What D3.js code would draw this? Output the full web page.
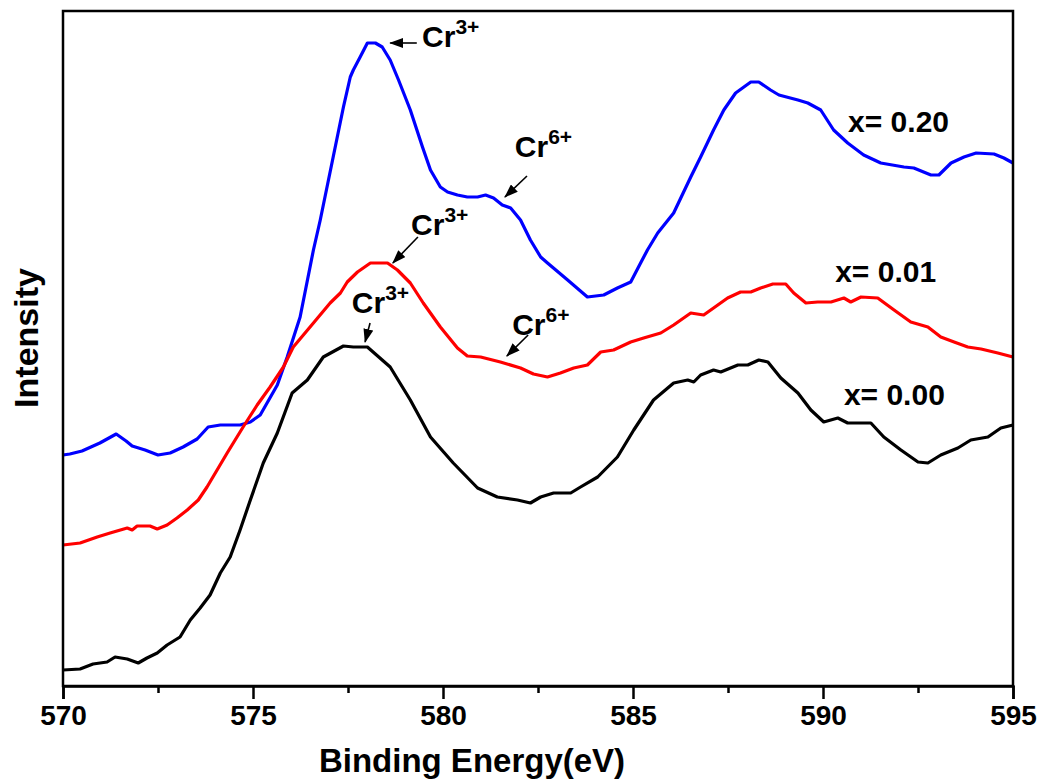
<!DOCTYPE html>
<html>
<head>
<meta charset="utf-8">
<script src="https://cdn.jsdelivr.net/npm/d3@7"></script>
<style>
  html, body { margin: 0; padding: 0; background: #fff; }
  svg { display: block; }
  text { font-family: "Liberation Sans", Arial, sans-serif; font-weight: bold; fill: #000; }
</style>
</head>
<body>
<svg id="chart" width="1039" height="780"></svg>
<script>
// ---------------- data ----------------
const xTicks = [570, 575, 580, 585, 590, 595];
const xMinorTicks = [572.5, 577.5, 582.5, 587.5, 592.5];

// x = 0.20 (blue)
const energy020 = [570.00,570.18,570.50,570.97,571.40,571.66,571.82,572.16,572.50,572.82,573.16,573.53,573.82,574.14,574.66,574.93,575.19,575.64,575.90,576.24,576.59,576.77,577.11,577.38,577.56,577.64,577.82,578.01,578.22,578.40,578.61,578.83,579.14,579.46,579.67,579.93,580.12,580.38,580.64,580.91,581.12,581.33,581.56,581.78,582.04,582.30,582.57,582.75,583.28,583.80,584.23,584.59,584.94,585.20,585.38,585.65,586.07,586.52,586.78,587.12,587.39,587.70,588.10,588.31,588.62,588.84,589.34,589.60,589.94,590.28,590.65,591.07,591.52,592.13,592.39,592.84,593.05,593.37,593.71,594.03,594.50,594.76,595.00];
const intensity020 = [231,232,235,243,252,245,240,236,231,233,239,247,259,261,261,264,271,301,329,369,436,466,529,579,609,616,629,643,643,639,626,606,576,539,516,499,494,491,489,489,491,488,481,478,466,446,429,423,406,389,391,398,404,423,436,453,473,509,529,556,576,593,604,604,596,591,586,583,576,556,543,531,523,519,518,511,511,523,529,533,532,528,523];

// x = 0.01 (red)
const energy001 = [570.00,570.45,570.90,571.24,571.69,571.82,571.95,572.29,572.48,572.74,573.00,573.27,573.56,573.79,574.32,574.74,575.11,575.45,575.80,576.06,576.59,577.03,577.30,577.48,577.75,578.09,578.54,578.80,579.14,579.48,579.93,580.38,580.64,580.99,581.51,582.04,582.38,582.75,583.09,583.44,583.80,584.15,584.49,584.94,585.28,585.73,586.07,586.52,586.86,587.12,587.49,587.83,588.10,588.36,588.68,589.02,589.23,589.55,589.86,590.21,590.55,590.73,591.00,591.44,591.87,592.31,592.76,593.10,593.45,593.81,594.16,594.60,595.00];
const intensity001 = [141,143,149,153,158,156,160,160,157,161,168,176,186,199,233,259,281,299,319,339,363,383,393,404,414,423,423,416,403,383,359,338,330,329,324,318,312,309,313,318,321,334,336,344,348,353,361,373,371,378,388,394,394,398,402,402,393,383,384,384,388,384,389,388,376,364,359,349,344,339,337,333,329];

// x = 0.00 (black)
const energy000 = [570.00,570.45,570.79,571.16,571.37,571.69,571.98,572.21,572.48,572.74,573.08,573.35,573.61,573.87,574.14,574.40,574.66,574.93,575.27,575.64,576.03,576.43,576.85,577.38,577.64,578.01,578.61,579.14,579.67,580.27,580.91,581.43,581.96,582.30,582.57,582.91,583.36,583.62,584.07,584.59,585.02,585.54,586.07,586.44,586.60,586.78,587.12,587.31,587.76,588.02,588.31,588.55,588.89,589.34,589.68,590.02,590.39,590.65,591.26,591.60,592.05,592.50,592.76,593.10,593.55,593.89,594.34,594.68,595.00];
const intensity000 = [16,17,22,24,29,27,23,28,33,41,49,66,78,91,113,129,156,186,223,253,293,306,329,340,339,339,319,286,249,223,198,189,186,183,189,193,193,199,209,229,256,286,303,306,304,311,316,314,321,321,326,324,308,293,276,264,268,263,263,249,236,224,223,231,238,246,249,258,261];

const seriesNames = ["x= 0.20", "x= 0.01", "x= 0.00"];
const seriesColors = ["#0000ff", "#ff0000", "#000000"];
const labelEnergy = [590.66, 590.32, 590.55];
const labelIntensity = [554, 404, 281];

// annotations: ion, arrow tip, arrow tail, text start (energy, intensity)
const annIon = ["3+", "6+", "3+", "3+", "6+"];
const annTipE = [578.61, 581.63, 578.68, 577.95, 581.68];
const annTipI = [643, 489, 423, 344, 330];
const annTailE = [579.31, 582.21, 579.34, 578.08, 582.24];
const annTailI = [643, 510, 449, 363, 351];
const annTextE = [579.45, 581.89, 579.16, 577.60, 581.82];
const annTextI = [639, 529, 451, 373, 351];

// ---------------- drawing ----------------
const svg = d3.select("#chart");
const plot = {left: 63, right: 1013, top: 11, bottom: 686};

const x = d3.scaleLinear().domain([570, 595]).range([plot.left, plot.right]);
const y = d3.scaleLinear().domain([0, 675]).range([plot.bottom, plot.top]);

const defs = svg.append("defs");
defs.append("marker")
  .attr("id", "arrowhead")
  .attr("markerUnits", "userSpaceOnUse")
  .attr("markerWidth", 14).attr("markerHeight", 10)
  .attr("refX", 13).attr("refY", 5)
  .attr("orient", "auto")
  .append("path").attr("d", "M0,0 L14,5 L0,10 Z").attr("fill", "#000");

// curves
const seriesData = [
  d3.zip(energy020, intensity020),
  d3.zip(energy001, intensity001),
  d3.zip(energy000, intensity000)
];
const line = d3.line().x(d => x(d[0])).y(d => y(d[1]));
const curves = svg.append("g");
seriesData.forEach((data, i) => {
  curves.append("path")
    .datum(data)
    .attr("d", line)
    .attr("fill", "none")
    .attr("stroke", seriesColors[i])
    .attr("stroke-width", 3.2)
    .attr("stroke-linejoin", "round");
});

// frame
svg.append("rect")
  .attr("x", plot.left).attr("y", plot.top)
  .attr("width", plot.right - plot.left).attr("height", plot.bottom - plot.top)
  .attr("fill", "none").attr("stroke", "#000").attr("stroke-width", 2.5);

// x axis
const xAxis = d3.axisBottom(x).tickValues(xTicks).tickFormat(d3.format("d")).tickSize(13).tickPadding(6);
const gx = svg.append("g").attr("transform", `translate(0,${plot.bottom})`).call(xAxis);
gx.select(".domain").attr("stroke-width", 2.5);
gx.selectAll(".tick line").attr("stroke-width", 2.5);
gx.selectAll(".tick text").attr("font-size", 28).attr("font-family", "Liberation Sans, Arial, sans-serif").attr("font-weight", "bold").attr("fill", "#000");
const xMinor = d3.axisBottom(x).tickValues(xMinorTicks).tickFormat("").tickSize(7);
const gxm = svg.append("g").attr("transform", `translate(0,${plot.bottom})`).call(xMinor);
gxm.select(".domain").remove();
gxm.selectAll(".tick line").attr("stroke-width", 2.5);

// axis titles
svg.append("text")
  .attr("x", 472).attr("y", 772)
  .attr("text-anchor", "middle").attr("font-size", 33)
  .text("Binding Energy(eV)");
svg.append("text")
  .attr("transform", `translate(38,338) rotate(-90)`)
  .attr("text-anchor", "middle").attr("font-size", 34)
  .text("Intensity");

// series labels
seriesNames.forEach((name, i) => {
  svg.append("text")
    .attr("x", x(labelEnergy[i])).attr("y", y(labelIntensity[i]))
    .attr("font-size", 30)
    .text(name);
});

// annotations
annIon.forEach((ion, i) => {
  svg.append("line")
    .attr("x1", x(annTailE[i])).attr("y1", y(annTailI[i]))
    .attr("x2", x(annTipE[i])).attr("y2", y(annTipI[i]))
    .attr("stroke", "#000").attr("stroke-width", 1.6)
    .attr("marker-end", "url(#arrowhead)");
  const t = svg.append("text")
    .attr("x", x(annTextE[i])).attr("y", y(annTextI[i]))
    .attr("font-size", 30);
  t.append("tspan").text("Cr");
  t.append("tspan").attr("dy", -13).attr("font-size", 21).text(ion);
});
</script>
</body>
</html>
